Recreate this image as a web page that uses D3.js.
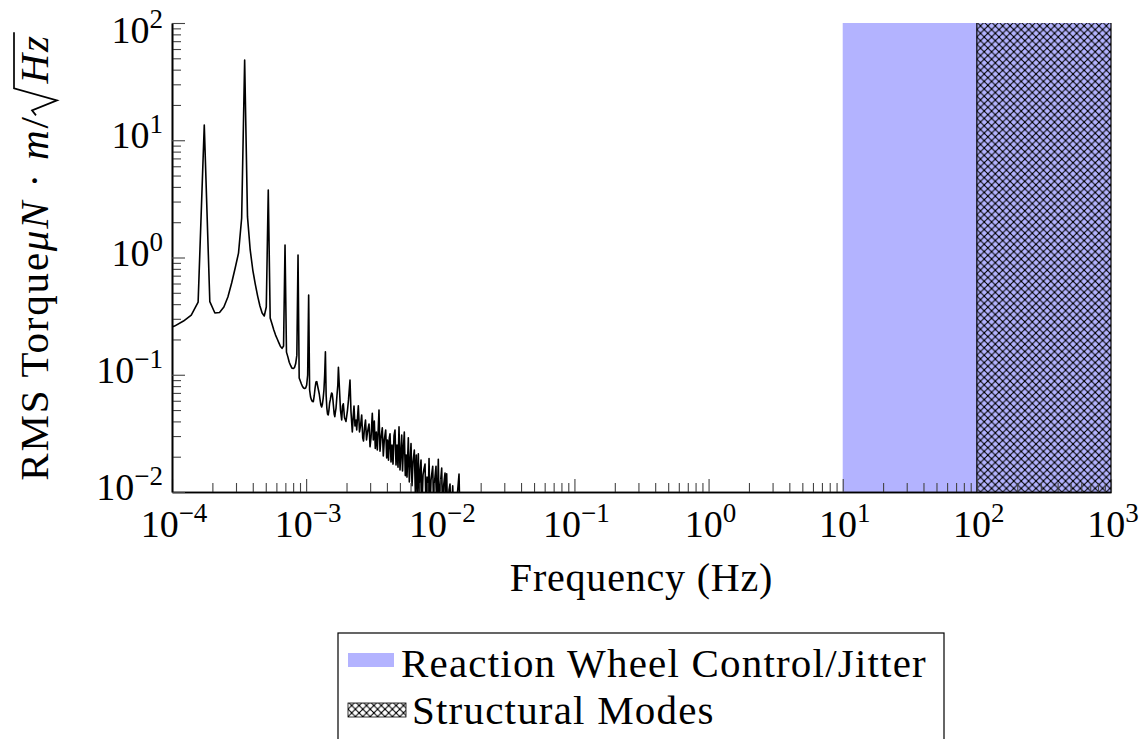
<!DOCTYPE html>
<html>
<head>
<meta charset="utf-8">
<script src="https://cdn.jsdelivr.net/npm/d3@7"></script>
<style>
  body { margin: 0; background: #fff; }
  svg text { font-family: "Liberation Serif", "DejaVu Serif", serif; fill: #000; }
</style>
</head>
<body>
<div id="chart"></div>
<script>
// RMS torque spectrum, [frequency Hz, torque uN*m/sqrt(Hz)]
const spectrum = [
  [8.70e-5, 0.245], [1.044e-4, 0.260], [1.218e-4, 0.287], [1.392e-4, 0.323], [1.566e-4, 0.417],
  [1.740e-4, 13.5], [1.914e-4, 0.420], [2.088e-4, 0.336], [2.262e-4, 0.340], [2.436e-4, 0.378],
  [2.610e-4, 0.461], [2.784e-4, 0.606], [2.958e-4, 0.814], [3.132e-4, 1.09], [3.306e-4, 2.17],
  [3.480e-4, 48.3], [3.654e-4, 2.23], [3.828e-4, 1.16], [4.002e-4, 0.782], [4.176e-4, 0.594],
  [4.350e-4, 0.469], [4.524e-4, 0.386], [4.698e-4, 0.336], [4.872e-4, 0.317], [5.046e-4, 0.378],
  [5.220e-4, 3.76], [5.394e-4, 0.305], [5.568e-4, 0.271], [5.742e-4, 0.241], [5.916e-4, 0.218],
  [6.090e-4, 0.202], [6.264e-4, 0.187], [6.438e-4, 0.174], [6.612e-4, 0.168], [6.786e-4, 0.176],
  [6.960e-4, 1.28], [7.134e-4, 0.156], [7.308e-4, 0.142], [7.482e-4, 0.128], [7.656e-4, 0.120],
  [7.830e-4, 0.114], [8.004e-4, 0.113], [8.178e-4, 0.115], [8.352e-4, 0.124], [8.526e-4, 0.147],
  [8.700e-4, 1.05], [8.874e-4, 0.0938], [9.048e-4, 0.0885], [9.222e-4, 0.0834], [9.396e-4, 0.0794],
  [9.570e-4, 0.0771], [9.744e-4, 0.0764], [9.918e-4, 0.0771], [1.0092e-3, 0.0818], [1.0266e-3, 0.0995],
  [1.0440e-3, 0.479], [1.0614e-3, 0.0741], [1.0788e-3, 0.0646], [1.0962e-3, 0.0610], [1.1136e-3, 0.0591],
  [1.1310e-3, 0.0590], [1.1484e-3, 0.0659], [1.1658e-3, 0.0771], [1.1832e-3, 0.0867], [1.2006e-3, 0.0873],
  [1.2180e-3, 0.0802], [1.2354e-3, 0.0741], [1.2528e-3, 0.0685], [1.2702e-3, 0.0610], [1.2876e-3, 0.0552],
  [1.3050e-3, 0.0531], [1.3224e-3, 0.0563], [1.3398e-3, 0.0633], [1.3572e-3, 0.0741], [1.3746e-3, 0.0995],
  [1.3920e-3, 0.157], [1.4094e-3, 0.0672], [1.4268e-3, 0.0520], [1.4442e-3, 0.0462], [1.4616e-3, 0.0454],
  [1.4790e-3, 0.0500], [1.4964e-3, 0.0574], [1.5138e-3, 0.0610], [1.5312e-3, 0.0659], [1.5486e-3, 0.0699],
  [1.5660e-3, 0.0685], [1.5834e-3, 0.0610], [1.6008e-3, 0.0531], [1.6182e-3, 0.0462], [1.6356e-3, 0.0439],
  [1.6530e-3, 0.0481], [1.6704e-3, 0.0520], [1.6878e-3, 0.0610], [1.7052e-3, 0.0712], [1.7226e-3, 0.0818],
  [1.7400e-3, 0.116], [1.803e-3, 0.0500], [1.841e-3, 0.0411], [1.867e-3, 0.0540], [1.893e-3, 0.0565],
  [1.932e-3, 0.0430], [1.982e-3, 0.0400], [2.034e-3, 0.0500], [2.069e-3, 0.0610], [2.123e-3, 0.0900],
  [2.160e-3, 0.0480], [2.209e-3, 0.0325], [2.244e-3, 0.0445], [2.274e-3, 0.0540], [2.313e-3, 0.0366],
  [2.354e-3, 0.0411], [2.382e-3, 0.0338], [2.415e-3, 0.0430], [2.449e-3, 0.0543], [2.499e-3, 0.0325],
  [2.543e-3, 0.0366], [2.595e-3, 0.0454], [2.641e-3, 0.0290], [2.677e-3, 0.0272], [2.723e-3, 0.0353],
  [2.770e-3, 0.0411], [2.819e-3, 0.0278], [2.868e-3, 0.0325], [2.943e-3, 0.0380], [2.994e-3, 0.0243],
  [3.046e-3, 0.0290], [3.113e-3, 0.0470], [3.167e-3, 0.0278], [3.222e-3, 0.0403], [3.277e-3, 0.0235],
  [3.334e-3, 0.0325], [3.392e-3, 0.0228], [3.445e-3, 0.0338], [3.492e-3, 0.0500], [3.553e-3, 0.0223],
  [3.614e-3, 0.0290], [3.696e-3, 0.0353], [3.760e-3, 0.0203], [3.826e-3, 0.0278], [3.918e-3, 0.0338],
  [3.986e-3, 0.0195], [4.040e-3, 0.0278], [4.111e-3, 0.0187], [4.168e-3, 0.0290], [4.219e-3, 0.0313],
  [4.292e-3, 0.0180], [4.366e-3, 0.0252], [4.442e-3, 0.0173], [4.519e-3, 0.0302], [4.597e-3, 0.0338],
  [4.677e-3, 0.0170], [4.758e-3, 0.0252], [4.840e-3, 0.0163], [4.924e-3, 0.0359], [5.009e-3, 0.0154],
  [5.096e-3, 0.0228], [5.157e-3, 0.0306], [5.229e-3, 0.0151], [5.301e-3, 0.0228], [5.393e-3, 0.0325],
  [5.486e-3, 0.0138], [5.572e-3, 0.0207], [5.649e-3, 0.0134], [5.777e-3, 0.0290], [5.877e-3, 0.0122],
  [5.969e-3, 0.0187], [6.051e-3, 0.0259], [6.155e-3, 0.0113], [6.262e-3, 0.0180], [6.404e-3, 0.0228],
  [6.515e-3, 0.0100], [6.627e-3, 0.0207], [6.730e-3, 0.0089], [6.859e-3, 0.0212], [6.978e-3, 0.0086],
  [7.086e-3, 0.0154], [7.184e-3, 0.0187], [7.309e-3, 0.0078], [7.436e-3, 0.0140], [7.564e-3, 0.0158],
  [7.695e-3, 0.0173], [7.830e-3, 0.0073], [7.966e-3, 0.0134], [8.103e-3, 0.0070], [8.243e-3, 0.0193],
  [8.386e-3, 0.0068], [8.531e-3, 0.0127], [8.784e-3, 0.0166], [8.935e-3, 0.0064], [9.092e-3, 0.0127],
  [9.292e-3, 0.0166], [9.453e-3, 0.0064], [9.667e-3, 0.0190], [9.834e-3, 0.0060], [1.0004e-2, 0.0115],
  [1.0246e-2, 0.0160], [1.0424e-2, 0.0058], [1.0604e-2, 0.0115], [1.0845e-2, 0.0145], [1.103e-2, 0.0058],
  [1.1163e-2, 0.0143], [1.1355e-2, 0.0056], [1.1618e-2, 0.0104], [1.182e-2, 0.0117], [1.2025e-2, 0.0053],
  [1.2378e-2, 0.0113], [1.266e-2, 0.0053], [1.310e-2, 0.0070], [1.3795e-2, 0.0142], [1.403e-2, 0.0058],
  [1.65e-2, 0.0040]
];

// shaded frequency bands (Hz)
const jitterBand = [10, 1000];
const structuralBand = [100, 1000];
const legendLabels = ['Reaction Wheel Control/Jitter', 'Structural Modes'];

// axes
const xDomain = [1e-4, 1e3];
const yDomain = [1e-2, 1e2];
const xDecades = [-4, -3, -2, -1, 0, 1, 2, 3];
const yDecades = [-2, -1, 0, 1, 2];
const xTitle = 'Frequency (Hz)';

const width = 1141, height = 739;
const margin = { left: 172, right: 30, top: 23, bottom: 247 };
const plotRight = width - margin.right, plotBottom = height - margin.bottom;
const blueFill = '#b3b3ff';
const serif = '"Liberation Serif", "DejaVu Serif", serif';

const svg = d3.select('#chart').append('svg')
  .attr('width', width)
  .attr('height', height)
  .attr('font-family', serif);

const defs = svg.append('defs');
const tile = 7.4;
const hatch = defs.append('pattern')
  .attr('id', 'crosshatch')
  .attr('patternUnits', 'userSpaceOnUse')
  .attr('width', tile).attr('height', tile);
hatch.append('path')
  .attr('d', `M0,0L${tile},${tile}M0,${tile}L${tile},0`)
  .attr('stroke', '#000').attr('stroke-width', 1.0);
hatch.selectAll('circle')
  .data([[0, 0], [tile, 0], [0, tile], [tile, tile], [tile / 2, tile / 2]])
  .join('circle')
  .attr('cx', d => d[0]).attr('cy', d => d[1]).attr('r', 1.1)
  .attr('fill', '#000');

defs.append('clipPath').attr('id', 'plotclip')
  .append('rect')
  .attr('x', margin.left).attr('y', margin.top)
  .attr('width', plotRight - margin.left).attr('height', plotBottom - margin.top);

const x = d3.scaleLog().domain(xDomain).range([margin.left, plotRight]);
const y = d3.scaleLog().domain(yDomain).range([plotBottom, margin.top]);

// bands
svg.append('rect')
  .attr('x', x(jitterBand[0])).attr('y', margin.top)
  .attr('width', x(jitterBand[1]) - x(jitterBand[0]))
  .attr('height', plotBottom - margin.top)
  .attr('fill', blueFill);

svg.append('rect')
  .attr('x', x(structuralBand[0])).attr('y', margin.top)
  .attr('width', x(structuralBand[1]) - x(structuralBand[0]))
  .attr('height', plotBottom - margin.top)
  .attr('fill', 'url(#crosshatch)');

svg.selectAll('line.band-edge')
  .data(structuralBand)
  .join('line')
  .classed('band-edge', true)
  .attr('x1', d => x(d)).attr('x2', d => x(d))
  .attr('y1', margin.top).attr('y2', plotBottom)
  .attr('stroke', '#000').attr('stroke-width', 1.2);

// spectrum line
const line = d3.line()
  .x(d => x(d[0]))
  .y(d => y(d[1]));

svg.append('g').attr('clip-path', 'url(#plotclip)')
  .append('path')
  .datum(spectrum)
  .attr('d', line)
  .attr('fill', 'none')
  .attr('stroke', '#000')
  .attr('stroke-width', 1.6)
  .attr('stroke-linejoin', 'round');

// ticks
const minors = decs => decs.slice(0, -1).flatMap(d => d3.range(2, 10).map(m => m * Math.pow(10, d)));
const xMajor = xDecades.map(d => Math.pow(10, d));
const yMajor = yDecades.map(d => Math.pow(10, d));

const xAxis = svg.append('g').attr('transform', `translate(0,${plotBottom})`);
xAxis.append('g')
  .call(d3.axisBottom(x).tickValues(minors(xDecades)).tickSize(-9).tickSizeOuter(0).tickFormat(''));
xAxis.append('g')
  .call(d3.axisBottom(x).tickValues(xMajor).tickSize(-13).tickSizeOuter(0).tickFormat(''));

const yAxis = svg.append('g').attr('transform', `translate(${margin.left},0)`);
yAxis.append('g')
  .call(d3.axisLeft(y).tickValues(minors(yDecades)).tickSize(-9).tickSizeOuter(0).tickFormat(''));
yAxis.append('g')
  .call(d3.axisLeft(y).tickValues(yMajor).tickSize(-13).tickSizeOuter(0).tickFormat(''));

svg.selectAll('.tick line').attr('stroke', '#444').attr('stroke-width', 1.1);
svg.selectAll('.domain').attr('stroke', '#000').attr('stroke-width', 1.6);

// tick labels as 10^n
function powerLabel(sel, exp) {
  sel.append('tspan').text('10');
  sel.append('tspan')
    .attr('dy', -15)
    .attr('font-size', 27)
    .text(String(exp).replace('-', '\u2212'));
}

svg.append('g').selectAll('text')
  .data(xDecades)
  .join('text')
  .attr('x', d => x(Math.pow(10, d)) + 2)
  .attr('y', plotBottom + 45)
  .attr('text-anchor', 'middle')
  .attr('font-family', serif)
  .attr('font-size', 38)
  .each(function (d) { powerLabel(d3.select(this), d); });

svg.append('g').selectAll('text')
  .data(yDecades)
  .join('text')
  .attr('x', margin.left - 9)
  .attr('y', d => Math.max(y(Math.pow(10, d)) + 8, 43))
  .attr('text-anchor', 'end')
  .attr('font-family', serif)
  .attr('font-size', 38)
  .each(function (d) { powerLabel(d3.select(this), d); });

// axis titles
svg.append('text')
  .attr('x', (margin.left + plotRight) / 2)
  .attr('y', plotBottom + 99)
  .attr('text-anchor', 'middle')
  .attr('font-family', serif)
  .attr('font-size', 40)
  .attr('letter-spacing', 0.8)
  .text(xTitle);

const yTitleGroup = svg.append('g')
  .attr('transform', `translate(48,${(margin.top + plotBottom) / 2})rotate(-90)`);
const yTitle = yTitleGroup.append('text')
  .attr('text-anchor', 'middle')
  .attr('font-family', serif)
  .attr('font-size', 41)
  .attr('letter-spacing', 1.8);
yTitle.append('tspan').text('RMS Torque');
yTitle.append('tspan').attr('font-style', 'italic').text('\u03bcN');
yTitle.append('tspan').text(' \u00b7 ');
yTitle.append('tspan').attr('font-style', 'italic').text('m');
yTitle.append('tspan').text('/');
yTitle.append('tspan').attr('dx', 32).attr('font-style', 'italic').text('Hz');

// radical sign drawn around "Hz"
const titleNode = yTitle.node();
const hBox = titleNode.getExtentOfChar(17);
const zBox = titleNode.getExtentOfChar(18);
const radTop = -34;
yTitleGroup.append('path')
  .attr('d', `M${hBox.x - 32},-12L${hBox.x - 27},-16L${hBox.x - 17},9L${hBox.x - 5},${radTop}L${zBox.x + zBox.width + 2},${radTop}`)
  .attr('fill', 'none')
  .attr('stroke', '#000')
  .attr('stroke-width', 1.7)
  .attr('stroke-linejoin', 'miter');

// legend
const legend = svg.append('g');
legend.append('rect')
  .attr('x', 338).attr('y', 633)
  .attr('width', 606).attr('height', 140)
  .attr('fill', '#fff')
  .attr('stroke', '#000')
  .attr('stroke-width', 1.2);

const rows = legend.selectAll('g.row')
  .data(legendLabels)
  .join('g')
  .classed('row', true)
  .attr('transform', (d, i) => `translate(348,${677 + i * 47})`);

rows.append('rect')
  .attr('x', 0).attr('y', (d, i) => i === 0 ? -24 : -21)
  .attr('width', (d, i) => i === 0 ? 46 : 58)
  .attr('height', 14)
  .attr('fill', (d, i) => i === 0 ? blueFill : 'url(#crosshatch)')
  .attr('stroke', (d, i) => i === 0 ? 'none' : '#000')
  .attr('stroke-width', 0.8);

rows.append('text')
  .attr('x', (d, i) => i === 0 ? 53 : 64)
  .attr('y', 0)
  .attr('font-family', serif)
  .attr('font-size', 41)
  .attr('letter-spacing', 1.2)
  .text(d => d);
</script>
</body>
</html>
